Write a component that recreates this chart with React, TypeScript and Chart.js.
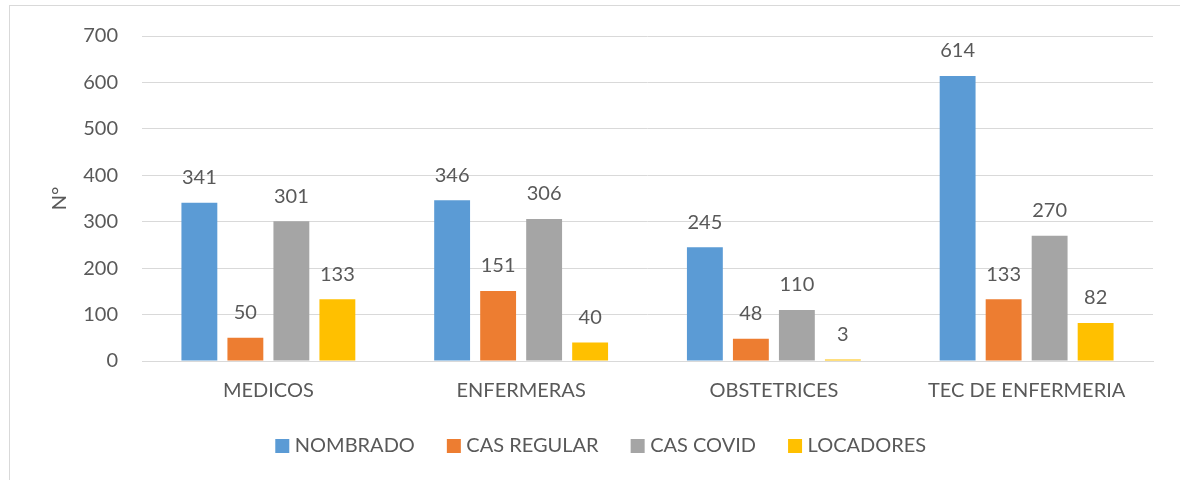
import React, { useEffect, useRef } from "react";
import { Chart, registerables } from "chart.js";

Chart.register(...registerables);

const categories = ["MEDICOS", "ENFERMERAS", "OBSTETRICES", "TEC DE ENFERMERIA"];
const nombrado = [341, 346, 245, 614];
const casRegular = [50, 151, 48, 133];
const casCovid = [301, 306, 110, 270];
const locadores = [133, 40, 3, 82];
const seriesNames = ["NOMBRADO", "CAS REGULAR", "CAS COVID", "LOCADORES"];
const seriesColors = ["#5B9BD5", "#ED7D31", "#A5A5A5", "#FFC000"];
const yTicks = [0, 100, 200, 300, 400, 500, 600, 700];

const FONT = "Lato, 'Open Sans', sans-serif";
const TEXT = "#595959";

const valueLabels = {
  id: "valueLabels",
  afterDatasetsDraw(chart: any) {
    const ctx = chart.ctx;
    ctx.save();
    ctx.font = `20px ${FONT}`;
    ctx.fillStyle = TEXT;
    ctx.textAlign = "center";
    ctx.textBaseline = "middle";
    chart.data.datasets.forEach((ds: any, i: number) => {
      const meta = chart.getDatasetMeta(i);
      meta.data.forEach((bar: any, j: number) => {
        ctx.fillText(String(ds.data[j]), bar.x, bar.y - 25);
      });
    });
    ctx.restore();
  },
};

export default function App() {
  const ref = useRef<HTMLCanvasElement | null>(null);
  useEffect(() => {
    if (!ref.current) return;
    const all = [nombrado, casRegular, casCovid, locadores];
    const chart = new Chart(ref.current, {
      type: "bar",
      data: {
        labels: categories,
        datasets: all.map((d, i) => ({
          label: seriesNames[i],
          data: d,
          backgroundColor: seriesColors[i],
          borderWidth: 0,
          categoryPercentage: 0.728,
          barPercentage: 0.78,
        })),
      },
      options: {
        animation: false,
        responsive: false,
        maintainAspectRatio: false,
        layout: { padding: { top: 35, right: 0, bottom: 14, left: 26 } },
        plugins: {
          tooltip: { enabled: false },
          legend: {
            position: "bottom",
            labels: {
              usePointStyle: true,
              pointStyle: "rect",
              boxWidth: 5,
              boxHeight: 14,
              padding: 36.5,
              color: TEXT,
              font: { family: FONT, size: 20 },
            },
          },
        },
        scales: {
          x: {
            clip: false,
            grid: { display: false, drawTicks: false },
            border: { display: true, color: "#d9d9d9" },
            ticks: { color: TEXT, font: { family: FONT, size: 20 }, padding: 18 },
            afterFit: (s: any) => {
              s.height = 38.5;
            },
          },
          y: {
            min: 0,
            max: 700,
            afterBuildTicks: (s: any) => {
              s.ticks = yTicks.map((v) => ({ value: v }));
            },
            grid: { color: "#d9d9d9", drawTicks: false },
            border: { display: false },
            ticks: { color: TEXT, font: { family: FONT, size: 20 }, padding: 24 },
            title: {
              display: true,
              text: "N°",
              color: TEXT,
              font: { family: FONT, size: 20 },
              padding: { top: 22, bottom: 0 },
            },
            afterFit: (s: any) => {
              s.width = 116;
            },
          },
          yRight: {
            position: "right",
            display: true,
            min: 0,
            max: 700,
            grid: { display: false, drawTicks: false },
            border: { display: false },
            ticks: { display: false },
            afterFit: (s: any) => {
              s.width = 27;
            },
          },
        },
      },
      plugins: [valueLabels],
    });
    return () => chart.destroy();
  }, []);

  return (
    <div
      style={{
        position: "absolute",
        left: 0,
        top: 0,
        width: 1180,
        height: 480,
        overflow: "hidden",
        background: "#fff",
      }}
    >
      <div
        style={{
          position: "absolute",
          left: 9,
          top: 5,
          width: 1200,
          height: 500,
          border: "1px solid #d9d9d9",
        }}
      />
      <canvas ref={ref} width={1180} height={480} style={{ position: "absolute", left: 0, top: 0 }} />
    </div>
  );
}
